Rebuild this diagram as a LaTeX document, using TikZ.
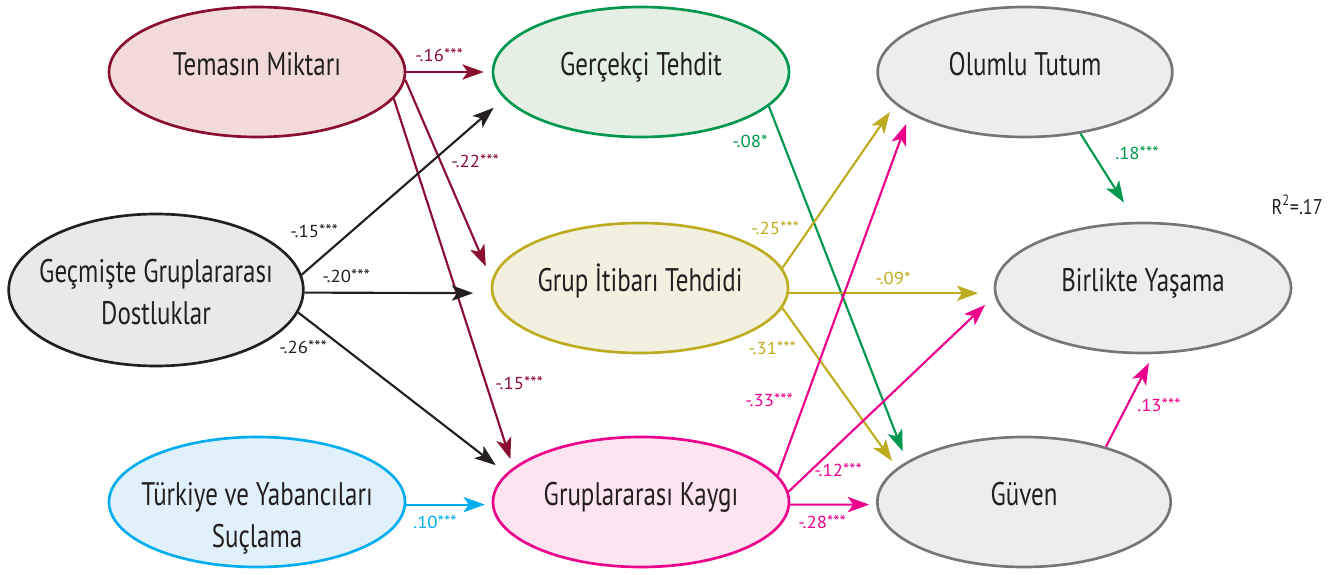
\documentclass[tikz,border=0pt]{standalone}
\usepackage{fontspec}
\setmainfont{PT Sans}[FakeStretch=0.765]
\newfontfamily\lblfam{PT Sans}[FakeStretch=1.08]
\newfontfamily\rsqfam{PT Sans}[FakeStretch=0.85]
\usetikzlibrary{shapes.geometric,arrows.meta}
\definecolor{txt}{RGB}{35,31,32}
\definecolor{maroon}{RGB}{137,14,47}
\definecolor{fmaroon}{RGB}{241,218,216}
\definecolor{grn}{RGB}{0,152,76}
\definecolor{fgrn}{RGB}{229,239,228}
\definecolor{gry}{RGB}{118,118,120}
\definecolor{fgry}{RGB}{236,237,239}
\definecolor{fdark}{RGB}{232,233,233}
\definecolor{olive}{RGB}{190,172,32}
\definecolor{folive}{RGB}{244,240,224}
\definecolor{cyn}{RGB}{0,174,239}
\definecolor{fcyn}{RGB}{225,241,251}
\definecolor{mag}{RGB}{236,0,140}
\definecolor{fmag}{RGB}{252,228,240}
\newcommand\ndfont{\fontsize{24.5pt}{31.5pt}\selectfont}
\newcommand\lbfont{\lblfam\fontsize{13pt}{15pt}\selectfont}
\newcommand\rsqfont{\rsqfam\fontsize{16pt}{18pt}\selectfont}
\newcommand\sig[1]{\raisebox{0.5pt}{\fontsize{12.5pt}{13pt}\selectfont #1}}
\newcommand\twoln[2]{\raisebox{#1}[0pt][0pt]{\makebox[0pt]{#2}}}
\tikzset{
  ell/.style={ellipse, line width=2pt, minimum width=222pt, minimum height=97.5pt,
    inner sep=0pt, font=\ndfont, text=txt, align=center},
  oneline/.style={text height=17pt, text depth=12pt},
  arr/.style={-{Stealth[length=16pt,width=11.5pt,inset=4pt]}, line width=1.6pt},
  lab/.style={font=\lbfont, inner sep=0pt, anchor=mid west},
}
\begin{document}
\begin{tikzpicture}[x=0.75pt,y=-0.75pt]
\useasboundingbox (0,0) rectangle (1344,574);
% nodes
\node[ell, oneline, draw=maroon, fill=fmaroon] (temas) at (257,72) {Temasın Miktarı};
\node[ell, oneline, draw=grn, fill=fgrn] (gercek) at (641,72) {Gerçekçi Tehdit};
\node[ell, oneline, draw=gry, fill=fgry, minimum width=221pt] (olumlu) at (1025,72) {Olumlu Tutum};
\node[ell, draw=txt, fill=fdark, minimum width=221pt, minimum height=114pt] (gecmis) at (156,290)
  {\twoln{-10pt}{Geçmişte Gruplararası}\\\twoln{-10pt}{Dostluklar}};
\node[ell, oneline, draw=olive, fill=folive] (grup) at (640,288) {Grup İtibarı Tehdidi};
\node[ell, oneline, draw=gry, fill=fgry] (birlikte) at (1143,288) {Birlikte Yaşama};
\node[ell, draw=cyn, fill=fcyn] (turkiye) at (257,502)
  {\twoln{-18pt}{Türkiye ve Yabancıları}\\\twoln{-18pt}{Suçlama}};
\node[ell, oneline, draw=mag, fill=fmag] (kaygi) at (641,502) {Gruplararası Kaygı};
\node[ell, oneline, draw=gry, fill=fgry, minimum width=220pt] (guven) at (1024,502) {Güven};
% connectors
\draw[arr, maroon, shorten >=6pt] (temas.0) -- (gercek.180);
\draw[arr, maroon, shorten >=11.25pt] (temas.-3) -- (grup.177);
\draw[arr, maroon, shorten >=6.75pt] (temas.-11.6) -- (kaygi.165.9);
\draw[arr, txt, shorten >=10.5pt] (gecmis.6.6) -- (gercek.191.5);
\draw[arr, txt, shorten >=13.5pt] (gecmis.-1.9) -- (grup.182.7);
\draw[arr, txt, shorten >=10pt] (gecmis.-9.3) -- (kaygi.168.6);
\draw[arr, cyn, shorten >=5.25pt] (turkiye.-1.2) -- (kaygi.181.2);
\draw[arr, grn, shorten >=8.25pt] (gercek.-15.8) -- (guven.161.4);
\draw[arr, olive, shorten >=7pt] (grup.8.2) -- (olumlu.194.5);
\draw[arr, olive, shorten >=12pt] (grup.-2.7) -- (birlikte.182.7);
\draw[arr, olive, shorten >=6.4pt] (grup.-8.9) -- (guven.165.5);
\draw[arr, mag, shorten >=8pt] (kaygi.11.7) -- (olumlu.200);
\draw[arr, mag, shorten >=10pt] (kaygi.4.6) -- (birlikte.183.8);
\draw[arr, mag, shorten >=5.25pt] (kaygi.-1.2) -- (guven.181.2);
\draw[arr, grn, shorten >=17pt] (olumlu.-48.5) -- (birlikte.96.8);
\draw[arr, mag, shorten >=7.5pt] (guven.34.2) -- (birlikte.-81);
% coefficient labels
\node[lab, maroon] (l1) at (415,58) {-.16\sig{***}};
\node[lab, maroon] (l2) at (451,164) {-.22\sig{***}};
\node[lab, maroon] (l3) at (495,386) {-.15\sig{***}};
\node[lab, txt] (l4) at (290,234) {-.15\sig{***}};
\node[lab, txt] (l5) at (322,279) {-.20\sig{***}};
\node[lab, txt] (l6) at (279,350) {-.26\sig{***}};
\node[lab, cyn] (l7) at (413,525) {.10\sig{***}};
\node[lab, grn] (l8) at (732,144) {-.08*};
\node[lab, olive] (l9) at (751,231) {-.25\sig{***}};
\node[lab, olive] (l10) at (875,281) {-.09*};
\node[lab, olive] (l11) at (748,351) {-.31\sig{***}};
\node[lab, mag] (l12) at (745,403) {-.33\sig{***}};
\node[lab, mag] (l13) at (814,473) {-.12\sig{***}};
\node[lab, mag] (l14) at (798,525) {-.28\sig{***}};
\node[lab, grn] (l15) at (1115,156) {.18\sig{***}};
\node[lab, mag] (l16) at (1137,408) {.13\sig{***}};
\node[lab, txt, font=\rsqfont, anchor=mid east] (rsq) at (1323,211) {R\textsuperscript{2}=.17};
\end{tikzpicture}
\end{document}
